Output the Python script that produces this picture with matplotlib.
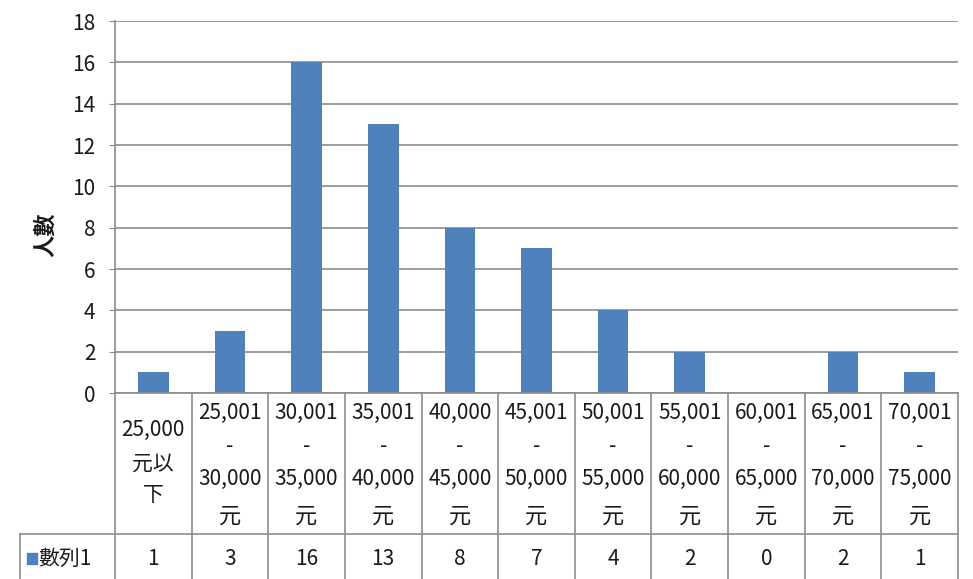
import matplotlib
matplotlib.use("Agg")
import matplotlib.pyplot as plt

plt.rcParams["font.family"] = ["Noto Sans CJK TC", "DejaVu Sans"]

# data
low_labels = ["25,000", "25,001", "30,001", "35,001", "40,000", "45,001",
              "50,001", "55,001", "60,001", "65,001", "70,001"]
high_labels = [None, "30,000", "35,000", "40,000", "45,000", "50,000",
               "55,000", "60,000", "65,000", "70,000", "75,000"]
counts = [1, 3, 16, 13, 8, 7, 4, 2, 0, 2, 1]
series_name = "數列1"
y_label = "人數"

BLUE = "#4F81BD"
GRID = "#8C8C8C"
TXT = "#1A1A1A"
W, H = 973, 579

fig = plt.figure(figsize=(W / 100, H / 100), dpi=100)
fig.patch.set_facecolor("white")

# main chart area
left, right, top, base = 115, 958, 21, 393
ax = fig.add_axes([left / W, (H - base) / H, (right - left) / W, (base - top) / H])
x = range(len(counts))
ax.bar(x, counts, width=0.4, color=BLUE, zorder=3)
ax.set_xlim(-0.5, len(counts) - 0.5)
ax.set_ylim(0, 18)
ax.set_yticks(range(0, 19, 2))
ax.set_xticks([])
ax.grid(axis="y", color=GRID, linewidth=1.2, zorder=0)
for s in ["top", "right", "bottom"]:
    ax.spines[s].set_visible(False)
ax.spines["left"].set_color(GRID)
ax.spines["left"].set_linewidth(1.2)
ax.tick_params(axis="y", length=4, color=GRID, labelsize=15, pad=10)
for t in ax.get_yticklabels():
    t.set_color(TXT)
fig.text(45 / W, 1 - 235 / H, y_label, rotation=90, ha="center", va="center",
         fontsize=16, fontweight="bold", color=TXT)

# data table under the chart
tb = fig.add_axes([left / W, 0, (right - left) / W, (H - base) / H])
tb.set_xlim(-0.5, len(counts) - 0.5)
tb.set_ylim(H, base)
tb.axis("off")

line_kw = dict(color=GRID, linewidth=1.2, clip_on=False)
tb.plot([-0.5, len(counts) - 0.5], [base, base], **line_kw)
for i in range(len(counts) + 1):
    tb.plot([i - 0.5, i - 0.5], [base, H + 5], **line_kw)
row2 = 534
leg_left = -0.5 - (left - 20) / ((right - left) / len(counts))
tb.plot([leg_left, len(counts) - 0.5], [row2, row2], **line_kw)
tb.plot([leg_left, leg_left], [row2, H + 5], **line_kw)

fs = 15
tkw = dict(ha="center", va="center", fontsize=fs, color=TXT)
for i, (lo, hi, c) in enumerate(zip(low_labels, high_labels, counts)):
    if hi is None:
        tb.text(i, 430, lo, **tkw)
        tb.text(i, 464, "元以", **tkw)
        tb.text(i, 495, "下", **tkw)
    else:
        tb.text(i, 413, lo, **tkw)
        tb.text(i, 446, "-", **tkw)
        tb.text(i, 479, hi, **tkw)
        tb.text(i, 516, "元", fontsize=16, ha="center", va="center", color=TXT)
    tb.text(i, 559, str(c), **tkw)

# legend key in table row
key_x = leg_left + 0.09
tb.add_patch(plt.Rectangle((key_x, 553), 0.13, 11, color=BLUE, clip_on=False))
tb.text(key_x + 0.15, 559, series_name, ha="left", va="center", fontsize=fs,
        color=TXT, clip_on=False)

fig.savefig("out.png", dpi=100, facecolor="white")
